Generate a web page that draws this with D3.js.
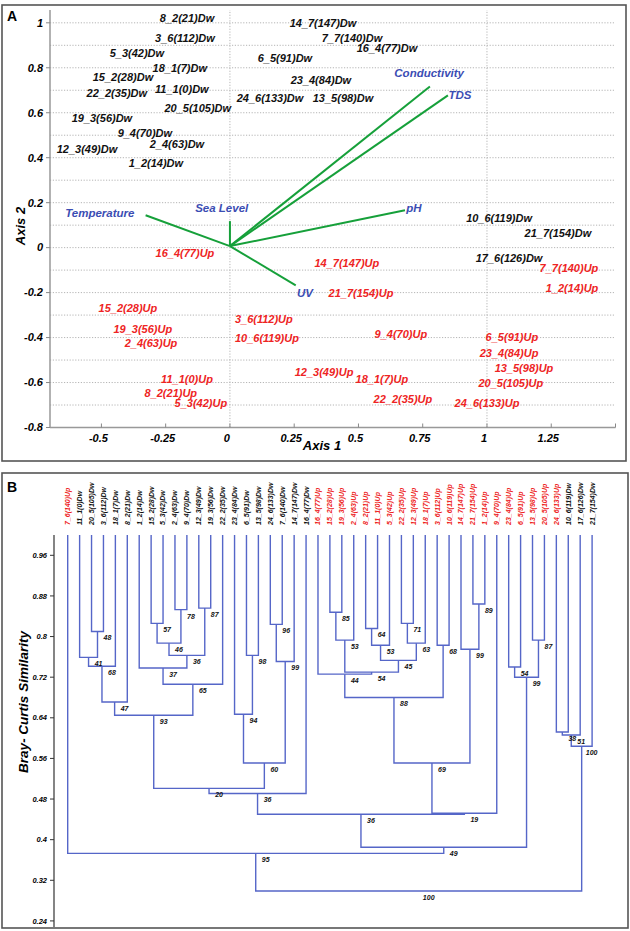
<!DOCTYPE html>
<html><head><meta charset="utf-8">
<script src="https://cdn.jsdelivr.net/npm/d3@7"></script>
<style>
body{margin:0;background:#fff}
text{font-family:"Liberation Sans",Arial,sans-serif;font-weight:bold;font-style:italic}
</style>
</head><body>
<svg id="c" width="630" height="931"></svg>
<script>
// ---------- Panel A data (label positions in axis units) ----------
const dwLabels = ["8_2(21)Dw","3_6(112)Dw","5_3(42)Dw","18_1(7)Dw","15_2(28)Dw","22_2(35)Dw","11_1(0)Dw","20_5(105)Dw","19_3(56)Dw","9_4(70)Dw","2_4(63)Dw","12_3(49)Dw","1_2(14)Dw","6_5(91)Dw","24_6(133)Dw","14_7(147)Dw","7_7(140)Dw","16_4(77)Dw","23_4(84)Dw","13_5(98)Dw","10_6(119)Dw","21_7(154)Dw","17_6(126)Dw"];
const dwX = [-0.167,-0.175,-0.362,-0.195,-0.416,-0.44,-0.187,-0.125,-0.498,-0.331,-0.206,-0.556,-0.288,0.214,0.156,0.362,0.475,0.611,0.354,0.44,1.047,1.276,1.086];
const dwY = [1.019,0.932,0.865,0.798,0.758,0.687,0.705,0.620,0.576,0.509,0.460,0.438,0.375,0.843,0.665,0.999,0.932,0.888,0.745,0.665,0.130,0.064,-0.048];

const upLabels = ["16_4(77)Up","14_7(147)Up","7_7(140)Up","1_2(14)Up","21_7(154)Up","15_2(28)Up","3_6(112)Up","19_3(56)Up","2_4(63)Up","10_6(119)Up","9_4(70)Up","6_5(91)Up","23_4(84)Up","13_5(98)Up","20_5(105)Up","24_6(133)Up","12_3(49)Up","18_1(7)Up","22_2(35)Up","11_1(0)Up","8_2(21)Up","5_3(42)Up"];
const upX = [-0.175,0.455,1.319,1.331,0.51,-0.397,0.132,-0.339,-0.307,0.144,0.665,1.097,1.086,1.144,1.093,1.0,0.366,0.591,0.673,-0.167,-0.23,-0.113];
const upY = [-0.025,-0.070,-0.092,-0.181,-0.203,-0.270,-0.319,-0.364,-0.426,-0.404,-0.386,-0.399,-0.471,-0.537,-0.604,-0.693,-0.555,-0.586,-0.675,-0.586,-0.649,-0.693];

const vecNames = ["Temperature","Sea Level","Conductivity","TDS","pH","UV"];
const vecX = [-0.328,0,0.778,0.848,0.681,0.256];
const vecY = [0.144,0.118,0.717,0.677,0.166,-0.168];
const vecLabelX = [-0.506,-0.032,0.775,0.895,0.716,0.292];
const vecLabelY = [0.153,0.175,0.775,0.677,0.175,-0.203];
const vecOrigin = [0,0.007];

const yTicksA = [1,0.8,0.6,0.4,0.2,0,-0.2,-0.4,-0.6,-0.8];
const xTicksA = [-0.5,-0.25,0,0.25,0.5,0.75,1,1.25,1.5];
const xTickLabelsA = ["-0.5","-0.25","0","0.25","0.5","0.75","1","1.25",""];
const gridYA = d3.range(-7,11).map(i=>i/10);
const gridXA = [0,1];

// ---------- Panel B data ----------
const leaves = ["7_6(140)Up","11_1(0)Dw","20_5(105)Dw","3_6(112)Dw","18_1(7)Dw","8_2(21)Dw","1_2(14)Dw","15_2(28)Dw","5_3(42)Dw","2_4(63)Dw","9_4(70)Dw","12_3(49)Dw","19_3(56)Dw","22_2(35)Dw","23_4(84)Dw","6_5(91)Dw","13_5(98)Dw","24_6(133)Dw","7_6(140)Dw","14_7(147)Dw","16_4(77)Dw","16_4(77)Up","15_2(28)Up","19_3(56)Up","2_4(63)Up","8_2(21)Up","11_1(0)Up","5_3(42)Up","22_2(35)Up","12_3(49)Up","18_1(7)Up","3_6(112)Up","10_6(119)Up","14_7(147)Up","21_7(154)Up","1_2(14)Up","9_4(70)Up","23_4(84)Up","6_5(91)Up","13_5(98)Up","20_5(105)Up","24_6(133)Up","10_6(119)Dw","17_6(126)Dw","21_7(154)Dw"];
// merges: [id, left, right, similarity, support]; numbers = leaf index, strings = merge id
const merges = [
 ["m1",2,3,0.810,"48"],
 ["m2",1,"m1",0.759,"41"],
 ["m3","m2",4,0.7415,"68"],
 ["m4","m3",5,0.671,"47"],
 ["m5",7,8,0.826,"57"],
 ["m6",9,10,0.853,"78"],
 ["m7","m5","m6",0.787,"46"],
 ["m8",11,12,0.856,"87"],
 ["m9","m7","m8",0.763,"36"],
 ["m10",6,"m9",0.738,"37"],
 ["m11","m10",13,0.706,"65"],
 ["m12","m4","m11",0.645,"93"],
 ["m13",15,16,0.763,"98"],
 ["m14",14,"m13",0.647,"94"],
 ["m15",17,18,0.824,"96"],
 ["m16","m15",19,0.751,"99"],
 ["m17","m14","m16",0.551,"60"],
 ["m18","m12","m17",0.501,"20"],
 ["m19","m18",20,0.491,"36"],
 ["m20",22,23,0.848,"85"],
 ["m21","m20",24,0.793,"53"],
 ["m22",25,26,0.816,"64"],
 ["m23","m22",27,0.783,"53"],
 ["m24",28,29,0.826,"71"],
 ["m25","m24",30,0.787,"63"],
 ["m26","m23","m25",0.753,"45"],
 ["m27","m21","m26",0.730,"54"],
 ["m28",21,"m27",0.726,"44"],
 ["m29",31,32,0.783,"68"],
 ["m30","m28","m29",0.680,"88"],
 ["m31",34,35,0.864,"89"],
 ["m32",33,"m31",0.775,"99"],
 ["m33","m30","m32",0.551,"69"],
 ["m34","m33",36,0.452,"19"],
 ["m35","m19","m34",0.450,"36"],
 ["m36",37,38,0.740,"54"],
 ["m37",39,40,0.793,"87"],
 ["m38","m36","m37",0.720,"99"],
 ["m39","m35","m38",0.385,"49"],
 ["m40",0,"m39",0.373,"95"],
 ["m41",41,42,0.612,"38"],
 ["m42","m41",43,0.606,"51"],
 ["m43","m42",44,0.584,"100"],
 ["m44","m40","m43",0.299,"100"]
];
const yTicksB = [0.96,0.88,0.8,0.72,0.64,0.56,0.48,0.4,0.32,0.24];

// ---------- drawing ----------
const svg = d3.select("#c");
const RED = "#ee2424", BLUE = "#3b4db3", GREEN = "#16a03a", DBLUE = "#5566c8";

svg.append("rect").attr("x",2).attr("y",5).attr("width",624).attr("height",456)
  .attr("fill","none").attr("stroke","#555").attr("stroke-width",1.6);
svg.append("rect").attr("x",2).attr("y",473).attr("width",626).attr("height",455)
  .attr("fill","none").attr("stroke","#555").attr("stroke-width",1.6);
svg.append("text").attr("x",7).attr("y",21).attr("font-size",14).style("font-style","normal").text("A");
svg.append("text").attr("x",7).attr("y",492).attr("font-size",14).style("font-style","normal").text("B");

// Panel A
const xA = d3.scaleLinear().domain([-0.7,1.5]).range([50,615.5]);
const yA = d3.scaleLinear().domain([-0.8,1.057]).range([427.5,10]);
const gA = svg.append("g");
gA.selectAll("line.gy").data(gridYA).join("line")
  .attr("x1",xA(-0.7)).attr("x2",xA(1.5)).attr("y1",d=>yA(d)).attr("y2",d=>yA(d))
  .attr("stroke","#b5b5b5").attr("stroke-width",1).attr("stroke-dasharray","1.2,1.6");
gA.selectAll("line.gx").data(gridXA).join("line")
  .attr("y1",yA(-0.8)).attr("y2",yA(1.057)).attr("x1",d=>xA(d)).attr("x2",d=>xA(d))
  .attr("stroke","#b5b5b5").attr("stroke-width",1).attr("stroke-dasharray","1.2,1.6");
// axes lines
gA.append("line").attr("x1",xA(-0.7)).attr("x2",xA(-0.7)).attr("y1",yA(1.057)).attr("y2",yA(-0.8)).attr("stroke","#999").attr("stroke-width",1.5);
gA.append("line").attr("x1",xA(-0.7)).attr("x2",xA(1.5)).attr("y1",yA(-0.8)).attr("y2",yA(-0.8)).attr("stroke","#999").attr("stroke-width",1.5);
gA.selectAll("line.ty").data(yTicksA).join("line")
  .attr("x1",xA(-0.7)-4).attr("x2",xA(-0.7)).attr("y1",d=>yA(d)).attr("y2",d=>yA(d)).attr("stroke","#888");
gA.selectAll("text.ty").data(yTicksA).join("text")
  .attr("x",xA(-0.7)-7).attr("y",d=>yA(d)).attr("dy","0.35em").attr("text-anchor","end")
  .attr("font-size",11).text(d=>String(d));
gA.selectAll("line.tx").data(xTicksA).join("line")
  .attr("x1",d=>xA(d)).attr("x2",d=>xA(d)).attr("y1",yA(-0.8)).attr("y2",yA(-0.8)-4).attr("stroke","#888");
gA.selectAll("text.tx").data(xTicksA).join("text")
  .attr("x",d=>xA(d)-3).attr("y",yA(-0.8)+14).attr("text-anchor","middle")
  .attr("font-size",11).text((d,i)=>xTickLabelsA[i]);
gA.append("text").attr("x",322).attr("y",450).attr("text-anchor","middle").attr("font-size",13).text("Axis 1");
gA.append("text").attr("transform","translate(25,226) rotate(-90)").attr("text-anchor","middle").attr("font-size",13).text("Axis 2");

// vectors
gA.selectAll("line.vec").data(vecNames).join("line")
  .attr("x1",xA(vecOrigin[0])).attr("y1",yA(vecOrigin[1]))
  .attr("x2",(d,i)=>xA(vecX[i])).attr("y2",(d,i)=>yA(vecY[i]))
  .attr("stroke",GREEN).attr("stroke-width",2);
gA.selectAll("text.vec").data(vecNames).join("text")
  .attr("x",(d,i)=>xA(vecLabelX[i])).attr("y",(d,i)=>yA(vecLabelY[i])).attr("dy","0.35em")
  .attr("text-anchor","middle").attr("font-size",11.5).attr("fill",BLUE).text(d=>d);

// sample labels
gA.selectAll("text.dw").data(dwLabels).join("text")
  .attr("x",(d,i)=>xA(dwX[i])).attr("y",(d,i)=>yA(dwY[i])).attr("dy","0.35em")
  .attr("text-anchor","middle").attr("font-size",11).attr("fill","#111").text(d=>d);
gA.selectAll("text.up").data(upLabels).join("text")
  .attr("x",(d,i)=>xA(upX[i])).attr("y",(d,i)=>yA(upY[i])).attr("dy","0.35em")
  .attr("text-anchor","middle").attr("font-size",11).attr("fill",RED).text(d=>d);

// Panel B
const xB = d3.scalePoint().domain(d3.range(leaves.length)).range([67.7,592.1]);
const yB = d3.scaleLinear().domain([0.228,1.0]).range([927,535]);
const gB = svg.append("g");
gB.append("line").attr("x1",54).attr("x2",54).attr("y1",yB(1.0)).attr("y2",yB(0.228)).attr("stroke","#333").attr("stroke-width",1.2);
gB.selectAll("line.tb").data(yTicksB).join("line")
  .attr("x1",50).attr("x2",54).attr("y1",d=>yB(d)).attr("y2",d=>yB(d)).attr("stroke","#333");
gB.selectAll("text.tb").data(yTicksB).join("text")
  .attr("x",47).attr("y",d=>yB(d)).attr("dy","0.35em").attr("text-anchor","end")
  .attr("font-size",7.5).text(d=>String(d));
gB.append("text").attr("transform","translate(28,702) rotate(-90)").attr("text-anchor","middle")
  .attr("font-size",13.5).text("Bray- Curtis Similarity");

gB.selectAll("text.leaf").data(leaves).join("text")
  .attr("transform",(d,i)=>`translate(${xB(i)},525) rotate(-90)`).attr("dy","0.35em")
  .attr("font-size",7).attr("fill",d=>d.endsWith("Up")?RED:"#111").text(d=>d);

const nodes = {};
leaves.forEach((d,i)=>{nodes[i]={x:xB(i),h:1.0};});
const links = [];
merges.forEach(([id,l,r,h,s])=>{
  const a = nodes[l], b = nodes[r];
  nodes[id] = {x:(a.x+b.x)/2, h:h, s:s};
  links.push({a,b,h,s,x:(a.x+b.x)/2});
});
gB.selectAll("path.lk").data(links).join("path")
  .attr("d",d=>`M${d.a.x},${yB(d.a.h)}V${yB(d.h)}H${d.b.x}V${yB(d.b.h)}`)
  .attr("fill","none").attr("stroke",DBLUE).attr("stroke-width",1.4);
gB.selectAll("text.sup").data(links).join("text")
  .attr("x",d=>d.x+10).attr("y",d=>yB(d.h)+9).attr("text-anchor","middle")
  .attr("font-size",7).attr("fill","#111").text(d=>d.s);
</script>
</body></html>
